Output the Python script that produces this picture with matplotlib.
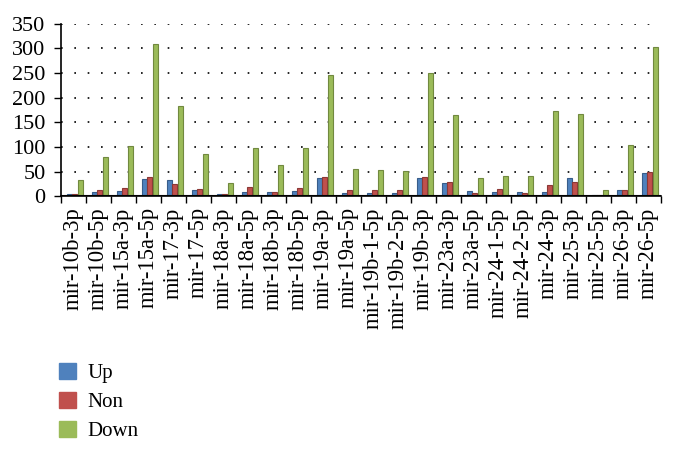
import numpy as np
import matplotlib
matplotlib.use("Agg")
import matplotlib.pyplot as plt
from matplotlib.patches import Patch

# data
categories = ["mir-10b-3p", "mir-10b-5p", "mir-15a-3p", "mir-15a-5p", "mir-17-3p",
              "mir-17-5p", "mir-18a-3p", "mir-18a-5p", "mir-18b-3p", "mir-18b-5p",
              "mir-19a-3p", "mir-19a-5p", "mir-19b-1-5p", "mir-19b-2-5p", "mir-19b-3p",
              "mir-23a-3p", "mir-23a-5p", "mir-24-1-5p", "mir-24-2-5p", "mir-24-3p",
              "mir-25-3p", "mir-25-5p", "mir-26-3p", "mir-26-5p"]
up = [5, 8, 10, 35, 33, 13, 5, 9, 8, 10, 37, 7, 7, 7, 36, 27, 10, 8, 8, 8, 37, 3, 13, 48]
non = [5, 13, 17, 40, 25, 15, 5, 18, 8, 16, 40, 13, 12, 12, 39, 28, 6, 15, 6, 22, 28, 3, 12, 49]
down = [33, 80, 102, 309, 184, 85, 27, 97, 64, 97, 246, 56, 53, 51, 250, 165, 36, 42, 41, 174, 167, 13, 104, 303]
series_names = ["Up", "Non", "Down"]
colors = ["#4F81BD", "#C0504D", "#9BBB59"]
edges = ["#385D8A", "#8C3836", "#71893F"]

plt.rcParams['font.family'] = ['Liberation Serif', 'DejaVu Serif']

fig = plt.figure(figsize=(6.75, 4.5), dpi=100)
ax = fig.add_axes([0.090, 0.564, 0.889, 0.383])

x = np.arange(len(categories))
offsets = [-0.15, 0.06, 0.30]
width = 0.2
for vals, off, c, ec in zip([up, non, down], offsets, colors, edges):
    ax.bar(x + off, vals, width=width, color=c, edgecolor=ec, linewidth=0.8, zorder=3)

ax.set_xlim(-0.5, len(categories) - 0.5)
ax.set_ylim(0, 350)
ax.set_yticks(np.arange(0, 351, 50))
ax.tick_params(axis='y', labelsize=16, length=5, width=1, direction='out', pad=6)

# category boundaries as ticks, labels in the middle
ax.set_xticks(np.arange(len(categories) + 1) - 0.5)
ax.set_xticklabels([])
ax.set_xticks(x, minor=True)
ax.set_xticklabels(categories, minor=True, rotation=90, fontsize=16.3)
ax.tick_params(axis='x', which='major', length=5, width=1, direction='out')
ax.tick_params(axis='x', which='minor', length=0, pad=8)

ax.yaxis.grid(True, linestyle=(0, (1, 7)), color='black', linewidth=1.2, zorder=0)
ax.axhline(0, color='black', linewidth=1.5, zorder=4)
for s in ['top', 'right']:
    ax.spines[s].set_visible(False)
ax.spines['left'].set_linewidth(1.2)
ax.spines['bottom'].set_linewidth(1.2)

handles = [Patch(facecolor=c, edgecolor=c) for c in colors]
fig.legend(handles, series_names, loc='upper left', bbox_to_anchor=(0.06, 0.235),
           frameon=False, fontsize=15, handlelength=0.8, handleheight=0.8,
           labelspacing=0.42, handletextpad=0.55)

fig.savefig("out.png", dpi=100)
